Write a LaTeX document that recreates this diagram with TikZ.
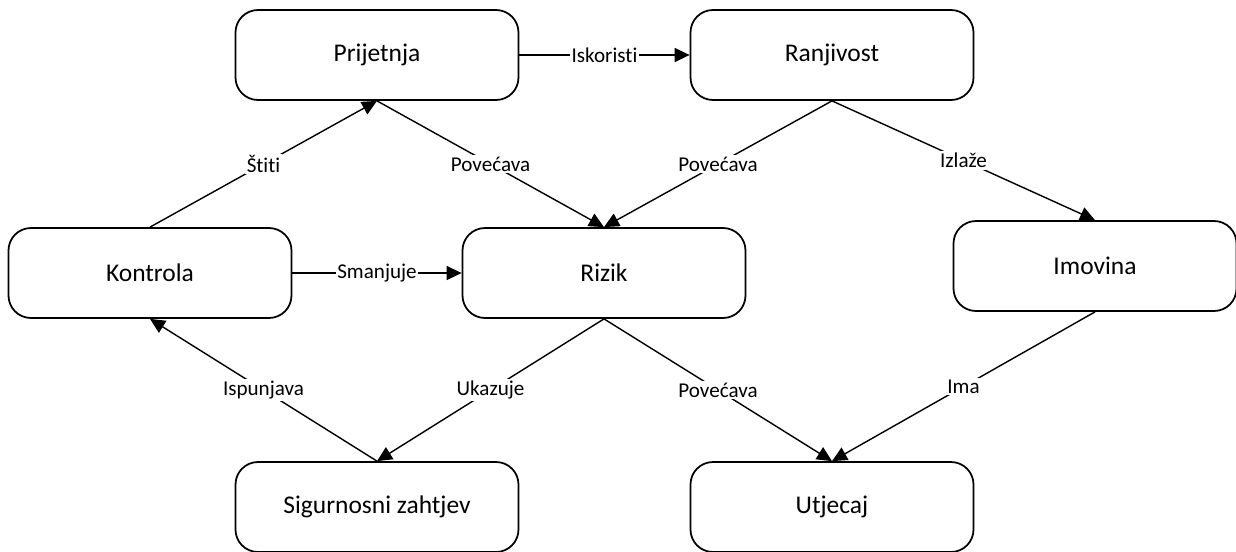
\documentclass[tikz,border=0pt]{standalone}
\usepackage{fontspec}
\setmainfont{Carlito}[Ligatures={NoCommon}]
\usepackage{tikz}
\usetikzlibrary{positioning,arrows.meta}

\begin{document}
\begin{tikzpicture}[
concept/.style={rectangle, rounded corners=0.45cm, draw=black, line width=1pt, minimum width=5.66cm, minimum height=1.8cm, font=\fontsize{14.5}{17}\selectfont},
rel/.style={line width=0.8pt, -{Triangle[length=0.3cm,width=0.28cm]}},
lbl/.style={fill=white, inner sep=1pt, font=\fontsize{12}{14}\selectfont},
]
\useasboundingbox (-7.54,1.1) rectangle (17.18,-9.92);

\node[concept] (prijetnja) {Prijetnja};
\node[concept] (ranjivost) [on grid, right=9.1cm of prijetnja] {Ranjivost};
\node[concept] (kontrola) [on grid, below left=4.36cm and 4.54cm of prijetnja] {Kontrola};
\node[concept] (rizik) [on grid, below right=4.36cm and 4.54cm of prijetnja] {Rizik};
\node[concept] (imovina) [on grid, below right=4.22cm and 5.26cm of ranjivost] {Imovina};
\node[concept] (zahtjev) [on grid, below=9.04cm of prijetnja] {Sigurnosni zahtjev};
\node[concept] (utjecaj) [on grid, below=9.04cm of ranjivost] {Utjecaj};

%Top row
\draw[rel] (prijetnja.east) -- node[lbl] {Iskoristi} (ranjivost.west);

%Into Rizik
\draw[rel] (prijetnja.south) -- node[lbl] {Povećava} (rizik.north);
\draw[rel] (ranjivost.south) -- node[lbl] {Povećava} (rizik.north);
\draw[rel] (kontrola.east) -- node[lbl] {Smanjuje} (rizik.west);

%Kontrola connections
\draw[rel] (kontrola.north) -- node[lbl] {Štiti} (prijetnja.south);
\draw[rel] (zahtjev.north) -- node[lbl] {Ispunjava} (kontrola.south);

%Out of Rizik
\draw[rel] (rizik.south) -- node[lbl] {Ukazuje} (zahtjev.north);
\draw[rel] (rizik.south) -- node[lbl] {Povećava} (utjecaj.north);

%Imovina
\draw[rel] (ranjivost.south) -- node[lbl] {Izlaže} (imovina.north);
\draw[rel] (imovina.south) -- node[lbl] {Ima} (utjecaj.north);
\end{tikzpicture}
\end{document}
